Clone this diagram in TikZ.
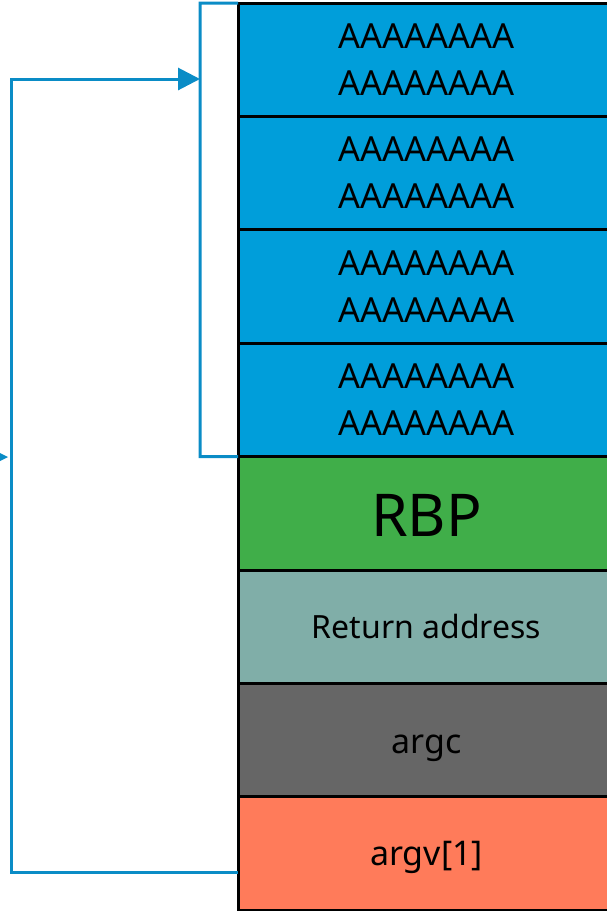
\documentclass[tikz,border=0pt]{standalone}
\usepackage{fontspec}
\setmainfont{Noto Sans}
\usetikzlibrary{arrows.meta}
\definecolor{bufblue}{RGB}{0,158,218}
\definecolor{rbpgreen}{RGB}{64,174,73}
\definecolor{retteal}{RGB}{128,174,168}
\definecolor{argcgray}{RGB}{102,102,102}
\definecolor{argvsalmon}{RGB}{255,123,90}
\definecolor{linkblue}{RGB}{10,140,198}
\begin{document}
\begin{tikzpicture}[x=1pt,y=-1pt,
  slot/.style={draw=black, line width=3pt, minimum width=377pt,
    minimum height=113.4pt, inner sep=0pt, outer sep=0pt,
    anchor=north west, align=center, text=black},
  bufslot/.style={slot, fill=bufblue,
    font=\fontsize{34.5}{47}\selectfont},
  link/.style={draw=linkblue, line width=3pt}]
\useasboundingbox (0,0) rectangle (607,911);

% stack frame slots, top to bottom
\node[bufslot] (b1) at (238,3) {AAAAAAAA\\AAAAAAAA};
\node[bufslot] (b2) at (238,116.4) {AAAAAAAA\\AAAAAAAA};
\node[bufslot] (b3) at (238,229.8) {AAAAAAAA\\AAAAAAAA};
\node[bufslot] (b4) at (238,343.2) {AAAAAAAA\\AAAAAAAA};
\node[slot, fill=rbpgreen, font=\fontsize{59}{60}\selectfont,
  text height=47pt, text depth=0pt] (rbp) at (238,456.6) {RBP};
\node[slot, fill=retteal, font=\fontsize{32}{34}\selectfont,
  text height=22.6pt, text depth=0pt] (ret) at (238,570) {Return address};
\node[slot, fill=argcgray, font=\fontsize{34}{36}\selectfont,
  text height=26pt, text depth=0pt] (argc) at (238,683.4) {argc};
\node[slot, fill=argvsalmon, font=\fontsize{34}{36}\selectfont,
  text height=23pt, text depth=0pt] (argv) at (238,796.8) {argv[1]};

% bracket around the buffer
\coordinate (brtop) at (200,3);
\coordinate (brbot) at (200,456.6);
\coordinate (brmid) at (200,79);
\draw[link] (b1.north west) -- (brtop) -- (brbot) -- (b4.south west);

% argv[1] points back into the buffer
\coordinate (src) at (238,872);
\coordinate (lowcorner) at (11,872);
\coordinate (highcorner) at (11,79);
\draw[link, -{Triangle[length=22pt,width=22pt]}]
  (src) -- (lowcorner) -- (highcorner) -- (brmid);

% arrowhead entering from the left edge
\fill[linkblue] (8,457) -- (-14,446) -- (-14,468) -- cycle;
\end{tikzpicture}
\end{document}
